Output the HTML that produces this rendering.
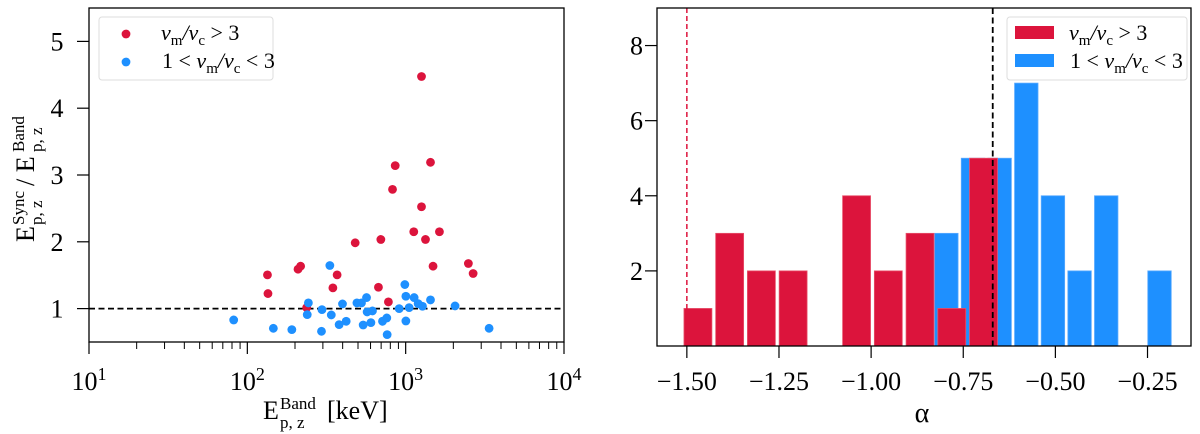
<!DOCTYPE html>
<html><head><meta charset="utf-8">
<style>
html,body{margin:0;padding:0;background:#fff;}
svg{display:block;}
text{font-family:"Liberation Serif","DejaVu Serif",serif;}
</style></head>
<body>
<svg id="fig" width="1200" height="434" viewBox="0 0 1200 434" xmlns="http://www.w3.org/2000/svg" font-family="Liberation Serif, serif">
<g id="left"></g>
<g id="right"></g>
</svg>
<script>
// ---------- Scatter data ----------
const redX = [1259,859,1435,826,1259,1125,1634,697,1334,480,2489,2667,1489,209,217,134,135,369,347,673,778,237];
const redY = [4.475,3.14,3.19,2.785,2.525,2.15,2.15,2.035,2.035,1.985,1.675,1.525,1.635,1.59,1.635,1.505,1.225,1.505,1.31,1.32,1.10,1.015];
const blueX = [82,146,191,294,332,243,239,296,339,380,421,399,492,539,566,571,603,617,714,760,764,910,988,1003,1003,1052,1131,1199,1277,1435,2051,3365,526];
const blueY = [0.83,0.705,0.685,0.66,1.645,1.085,0.91,0.985,0.905,0.76,0.81,1.07,1.085,0.755,1.165,0.95,0.79,0.965,0.81,0.86,0.61,1.0,1.36,1.185,0.815,1.015,1.165,1.075,1.035,1.13,1.04,0.705,1.085];
const leftYTicks = [1,2,3,4,5];
const leftXDecades = [1,2,3,4];
// ---------- Histogram data ----------
const redCounts = [1,3,2,2,0,4,2,3,1,5];
const redStart = -1.513, redWidth = 0.0861;
const blueCounts = [3,5,5,7,4,2,4,0,2];
const blueStart = -0.832, blueWidth = 0.0723;
const rightXTicks = [-1.5,-1.25,-1.0,-0.75,-0.5,-0.25];
const rightXLabels = ["\u22121.50","\u22121.25","\u22121.00","\u22120.75","\u22120.50","\u22120.25"];
const rightYTicks = [2,4,6,8];
const redLine = -1.5, blackLine = -0.67;

const NS="http://www.w3.org/2000/svg";
function mk(parent,tag,attrs,text){const e=document.createElementNS(NS,tag);for(const k in attrs)e.setAttribute(k,attrs[k]);if(text!==undefined)e.textContent=text;parent.appendChild(e);return e;}
const FS=26, LFS=22;

// ---------- Left panel ----------
const L=document.getElementById('left');
const lx0=89,lx1=564,ly0=8,ly1=342;
const lxs=v=>lx0+(Math.log10(v)-1)/3*(lx1-lx0);
const lys=v=>ly1-(v-0.5)/5*(ly1-ly0);
let e;
e=mk(L,'line',{x1:lx0,x2:lx1,y1:lys(1),y2:lys(1),stroke:'#000','stroke-width':1.8,'stroke-dasharray':'6,3.5'});


for(let i=0;i<redX.length;i++){e=mk(L,'circle',{cx:lxs(redX[i]),cy:lys(redY[i]),r:4.4,fill:'#dc143c'});

}
for(let i=0;i<blueX.length;i++){e=mk(L,'circle',{cx:lxs(blueX[i]),cy:lys(blueY[i]),r:4.4,fill:'#1e90ff'});

}
e=mk(L,'rect',{x:lx0,y:ly0,width:lx1-lx0,height:ly1-ly0,fill:'none',stroke:'#000','stroke-width':1.3});


for(const t of leftYTicks){mk(L,'line',{x1:lx0-12,x2:lx0,y1:lys(t),y2:lys(t),stroke:'#000','stroke-width':1.2});
e=mk(L,'text',{x:57,y:lys(t)+9,'font-size':FS,'text-anchor':'middle'},String(t));

}
for(const d of leftXDecades){const px=lxs(Math.pow(10,d));mk(L,'line',{x1:px,x2:px,y1:ly1,y2:ly1+12,stroke:'#000','stroke-width':1.2});
e=mk(L,'text',{x:px,y:390,'font-size':FS,'text-anchor':'middle'});


mk(e,'tspan',{},'10');mk(e,'tspan',{dy:-10,'font-size':18},String(d));
if(d<4){for(let m=2;m<10;m++){const p=lxs(m*Math.pow(10,d));mk(L,'line',{x1:p,x2:p,y1:ly1,y2:ly1+7,stroke:'#000','stroke-width':1});}}}
// y axis title (rotated group with separate pieces)
const yt=mk(L,'g',{transform:'translate(34,176) rotate(-90)'});


mk(yt,'text',{x:-66,y:0,'font-size':FS},'E');
mk(yt,'text',{x:-49,y:-10,'font-size':17},'Sync');
mk(yt,'text',{x:-49,y:8,'font-size':17},'p, z');
mk(yt,'text',{x:-10,y:0,'font-size':FS},'/ E');
mk(yt,'text',{x:24,y:-10,'font-size':17},'Band');
mk(yt,'text',{x:24,y:8,'font-size':17},'p, z');
// x axis title
const xt=mk(L,'g',{});


mk(xt,'text',{x:263,y:419,'font-size':FS},'E');
mk(xt,'text',{x:280,y:409,'font-size':17},'Band');
mk(xt,'text',{x:280,y:428,'font-size':17},'p, z');
mk(xt,'text',{x:327,y:419,'font-size':FS},'[keV]');
// legend
const lg=mk(L,'g',{});


mk(lg,'rect',{x:99,y:17,width:174,height:63,rx:3,fill:'#fff','fill-opacity':0.8,stroke:'#ddd'});
mk(lg,'circle',{cx:126,cy:34,r:4.4,fill:'#dc143c'});
mk(lg,'circle',{cx:126,cy:62,r:4.4,fill:'#1e90ff'});
e=mk(lg,'text',{x:161,y:40,'font-size':LFS,'font-style':'italic'});


e.innerHTML='ν<tspan font-size="15" dy="5" font-style="normal">m</tspan><tspan dy="-5">/ν</tspan><tspan font-size="15" dy="5" font-style="normal">c</tspan><tspan dy="-5" font-style="normal"> &gt; 3</tspan>';
e=mk(lg,'text',{x:162,y:68,'font-size':LFS});


e.innerHTML='1 &lt; <tspan font-style="italic">ν</tspan><tspan font-size="15" dy="5">m</tspan><tspan dy="-5" font-style="italic">/ν</tspan><tspan font-size="15" dy="5">c</tspan><tspan dy="-5"> &lt; 3</tspan>';

// ---------- Right panel ----------
const R=document.getElementById('right');
const rx0=657,rx1=1191,ry0=8,ry1=346;
const xmin=-1.581,xmax=-0.132;
const rxs=v=>rx0+(v-xmin)/(xmax-xmin)*(rx1-rx0);
const rys=v=>ry1-v/9*(ry1-ry0);
const rw=0.88;
blueCounts.forEach((c,i)=>{if(!c)return;const a=blueStart+i*blueWidth+blueWidth*(1-rw)/2;const x=rxs(a),w=rxs(a+blueWidth*rw)-x;
e=mk(R,'rect',{x:x,y:rys(c),width:w,height:rys(0)-rys(c),fill:'#1e90ff',stroke:'#5aaaff','stroke-width':0.8});

});
redCounts.forEach((c,i)=>{if(!c)return;const a=redStart+i*redWidth+redWidth*(1-rw)/2;const x=rxs(a),w=rxs(a+redWidth*rw)-x;
e=mk(R,'rect',{x:x,y:rys(c),width:w,height:rys(0)-rys(c),fill:'#dc143c',stroke:'#e8506a','stroke-width':0.8});

});
e=mk(R,'line',{x1:rxs(redLine),x2:rxs(redLine),y1:ry0,y2:ry1,stroke:'#dc143c','stroke-width':1.5,'stroke-dasharray':'5,3'});


e=mk(R,'line',{x1:rxs(blackLine),x2:rxs(blackLine),y1:ry0,y2:ry1,stroke:'#000','stroke-width':1.8,'stroke-dasharray':'6,3.5'});


e=mk(R,'rect',{x:rx0,y:ry0,width:rx1-rx0,height:ry1-ry0,fill:'none',stroke:'#000','stroke-width':1.3});


for(const t of rightYTicks){mk(R,'line',{x1:rx0-12,x2:rx0,y1:rys(t),y2:rys(t),stroke:'#000','stroke-width':1.2});
e=mk(R,'text',{x:rx0-14,y:rys(t)+9,'font-size':FS,'text-anchor':'end'},String(t));

}
rightXTicks.forEach((t,i)=>{const px=rxs(t);mk(R,'line',{x1:px,x2:px,y1:ry1,y2:ry1+12,stroke:'#000','stroke-width':1.2});
e=mk(R,'text',{x:px,y:390,'font-size':FS,'text-anchor':'middle'},rightXLabels[i]);

});
e=mk(R,'text',{x:922,y:422,'font-size':28,'text-anchor':'middle'},'α');


const rg=mk(R,'g',{});


mk(rg,'rect',{x:1007,y:17,width:180,height:63,rx:3,fill:'#fff','fill-opacity':0.8,stroke:'#ddd'});
mk(rg,'rect',{x:1015,y:26,width:39,height:13,fill:'#dc143c'});
mk(rg,'rect',{x:1015,y:54,width:39,height:13,fill:'#1e90ff'});
e=mk(rg,'text',{x:1069,y:40,'font-size':LFS,'font-style':'italic'});


e.innerHTML='ν<tspan font-size="15" dy="5" font-style="normal">m</tspan><tspan dy="-5">/ν</tspan><tspan font-size="15" dy="5" font-style="normal">c</tspan><tspan dy="-5" font-style="normal"> &gt; 3</tspan>';
e=mk(rg,'text',{x:1070,y:68,'font-size':LFS});


e.innerHTML='1 &lt; <tspan font-style="italic">ν</tspan><tspan font-size="15" dy="5">m</tspan><tspan dy="-5" font-style="italic">/ν</tspan><tspan font-size="15" dy="5">c</tspan><tspan dy="-5"> &lt; 3</tspan>';
</script>
</body></html>
